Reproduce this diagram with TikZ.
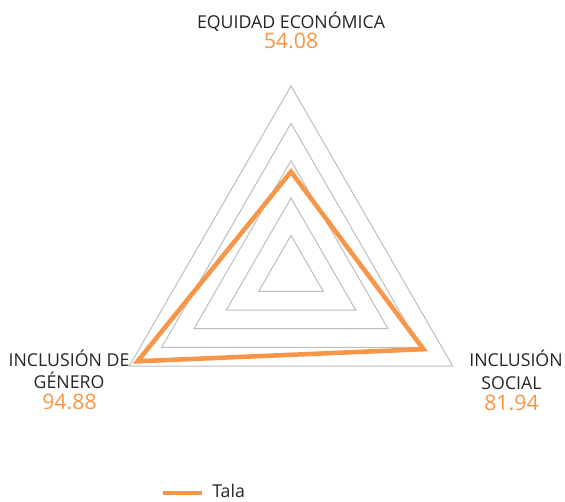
\documentclass[tikz,border=0pt]{standalone}
\usepackage{fontspec}
\setmainfont{Open Sans}
\usetikzlibrary{calc}
\definecolor{gridgray}{RGB}{191,191,191}
\definecolor{taloran}{RGB}{247,150,70}
\definecolor{txtdark}{RGB}{38,38,38}
\begin{document}
\begin{tikzpicture}[x=0.75pt,y=-0.75pt,
  gridline/.style={draw=gridgray,line width=0.75pt},
  dataline/.style={draw=taloran,line width=3.4pt,line join=miter},
  axislbl/.style={anchor=base,inner sep=0pt,text=txtdark,font=\fontsize{13.3}{15}\selectfont},
  vallbl/.style={anchor=base,inner sep=0pt,text=taloran,font=\fontsize{16}{18}\selectfont}]
\useasboundingbox (0,0) rectangle (565,501);
\fill[white] (0,0) rectangle (565,501);
\coordinate (c) at (291,272.7);
\foreach \k in {1,...,5}{
  \pgfmathsetmacro{\r}{186.7*\k/5}
  \draw[gridline] ($(c)+(0,-\r)$) -- ($(c)+({-0.8660254*\r},{0.5*\r})$) -- ($(c)+({0.8660254*\r},{0.5*\r})$) -- cycle;
}
\coordinate (dtop) at ($(c)+(0,{-186.7*0.5408})$);
\coordinate (dleft) at ($(c)+({-0.8660254*186.7*0.9488},{0.5*186.7*0.9488})$);
\coordinate (dright) at ($(c)+({0.8660254*186.7*0.8194},{0.5*186.7*0.8194})$);
\draw[dataline] (dtop) -- (dright) -- (dleft) -- cycle;
\node[axislbl] (t1) at (291,28) {EQUIDAD ECONÓMICA};
\node[vallbl] (v1) at (291,48.5) {54.08};
\node[axislbl] (l1) at (69,366) {INCLUSIÓN DE};
\node[axislbl] (l2) at (69,388) {GÉNERO};
\node[vallbl] (v2) at (69.5,409.5) {94.88};
\node[axislbl] (r1) at (516,366) {INCLUSIÓN};
\node[axislbl] (r2) at (511.5,389) {SOCIAL};
\node[vallbl] (v3) at (511.5,410) {81.94};
\coordinate (lg1) at (163,493);
\coordinate (lg2) at (202,493);
\draw[draw=taloran,line width=3.4pt] (lg1) -- (lg2);
\node[axislbl,anchor=base west] (lgt) at (212,497.5) {Tala};
\end{tikzpicture}
\end{document}
